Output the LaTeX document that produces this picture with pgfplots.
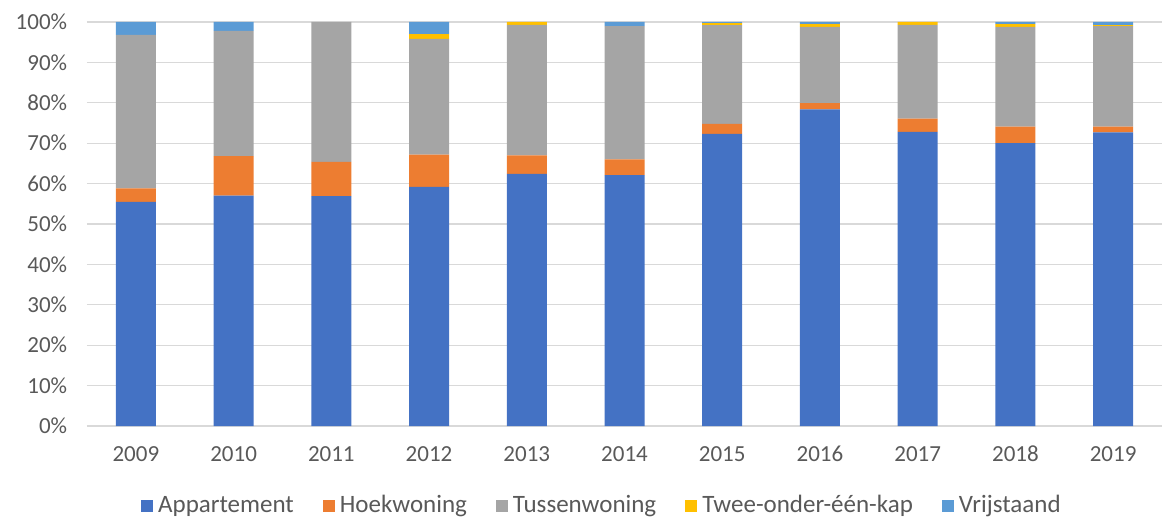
\documentclass[border=0pt]{standalone}
\usepackage{pgfplots}
\pgfplotsset{compat=1.18}
\usepackage{fontspec}
\setmainfont{Carlito}
\definecolor{cA}{HTML}{4472C4}
\definecolor{cH}{HTML}{ED7D31}
\definecolor{cT}{HTML}{A5A5A5}
\definecolor{cW}{HTML}{FFC000}
\definecolor{cV}{HTML}{5B9BD5}
\definecolor{txt}{HTML}{595959}
\definecolor{grd}{HTML}{D9D9D9}
\pgfplotstableread{
x  A    H    T    W    V
0  55.5 3.3  38.0 0.0  3.2
1  57.0 9.8  31.0 0.0  2.2
2  56.9 8.5  34.6 0.0  0.0
3  59.2 8.0  28.6 1.2  3.0
4  62.4 4.6  32.3 0.7  0.0
5  62.1 3.9  33.0 0.0  1.0
6  72.3 2.5  24.4 0.5  0.3
7  78.4 1.5  18.9 0.7  0.5
8  72.8 3.3  23.2 0.7  0.0
9  70.0 4.1  24.7 0.7  0.5
10 72.7 1.4  24.9 0.2  0.8
}\datatable
\begin{document}
\fontsize{23}{27}\selectfont
\begin{tikzpicture}
\begin{axis}[
  name=ax,
  scale only axis,
  width=1075pt, height=404pt,
  ybar stacked,
  bar width=40pt,
  xmin=-0.5, xmax=10.5,
  ymin=0, ymax=100,
  xtick={0,...,10},
  xticklabels={2009,2010,2011,2012,2013,2014,2015,2016,2017,2018,2019},
  ytick={0,10,...,100},
  yticklabel={\pgfmathprintnumber{\tick}\%},
  /pgf/number format/assume math mode=true,
  ymajorgrids,
  grid style={grd, line width=1.2pt},
  axis x line*=bottom,
  axis y line*=left,
  y axis line style={draw=none},
  x axis line style={grd, line width=1.2pt, -},
  major tick length=0pt,
  tick style={draw=none},
  ticklabel style={font=\fontsize{23}{27}\selectfont, text=txt},
  yticklabel style={xshift=-12pt},
  xticklabel style={yshift=-12pt, text height=16pt, text depth=0pt},
  legend style={at={(0.479,-0.198)}, anchor=center, draw=none,
    font=\fontsize{25}{29}\selectfont, text=txt, inner sep=0pt,
    /tikz/every even column/.append style={column sep=27pt},
    /tikz/every odd column/.append style={column sep=3pt}},
  legend columns=-1,
  legend image code/.code={\fill[#1] (0pt,-6pt) rectangle (12pt,6pt);},
]
\addplot[fill=cA, draw=none] table[x=x, y=A] {\datatable};
\addplot[fill=cH, draw=none] table[x=x, y=H] {\datatable};
\addplot[fill=cT, draw=none] table[x=x, y=T] {\datatable};
\addplot[fill=cW, draw=none] table[x=x, y=W] {\datatable};
\addplot[fill=cV, draw=none] table[x=x, y=V] {\datatable};
\legend{Appartement, Hoekwoning, Tussenwoning, Twee-onder-één-kap, Vrijstaand}
\end{axis}
\pgfresetboundingbox
\useasboundingbox ([xshift=-87pt,yshift=-93pt]ax.south west) rectangle ([yshift=22pt]ax.north east);
\end{tikzpicture}
\end{document}
